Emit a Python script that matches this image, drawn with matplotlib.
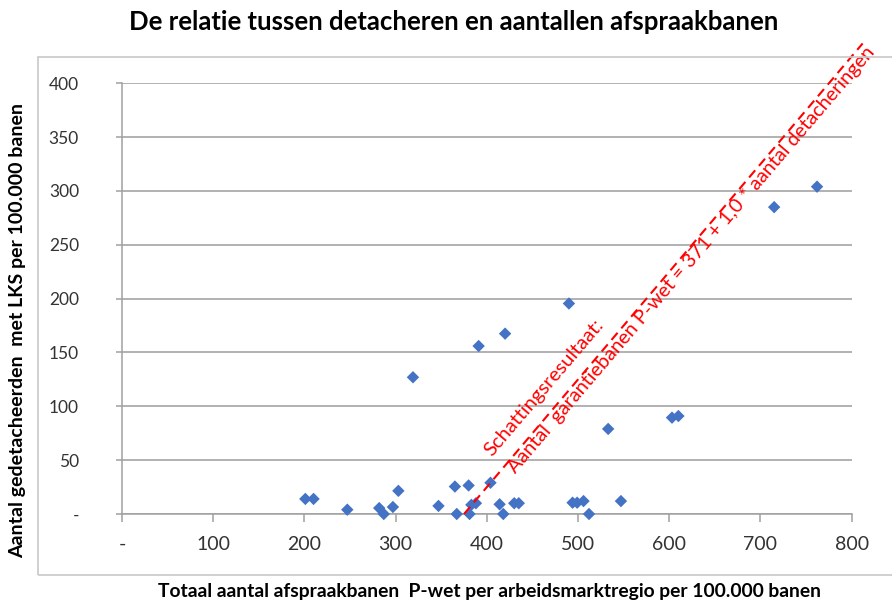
import matplotlib
matplotlib.use("Agg")
from matplotlib import pyplot as plt
from matplotlib.patches import Rectangle

plt.rcParams['font.family'] = ['Lato', 'DejaVu Sans']

# afspraakbanen P-wet (x) vs gedetacheerden met LKS (y), per 100.000 banen
afspraakbanen = [201, 210, 247, 282, 287, 297, 303, 319, 347, 365, 367, 380,
                 381, 383, 388, 391, 404, 414, 418, 420, 430, 435, 490, 494,
                 499, 506, 512, 533, 547, 603, 610, 715, 762]
gedetacheerden = [14, 14, 4, 5.5, 0, 6.5, 21.5, 127, 7.5, 25.5, 0, 26.5,
                  0, 8.5, 10, 156, 29, 9, 0, 167.5, 10, 10, 195.5, 10.5,
                  10.5, 12, 0, 79, 12, 89.5, 91, 285, 304]

# schattingsresultaat: garantiebanen = intercept + slope * detacheringen
trend_intercept = 375
trend_slope = 1.0
trend_y = [0, 437]

x_ticks = [0, 100, 200, 300, 400, 500, 600, 700, 800]
y_ticks = [0, 50, 100, 150, 200, 250, 300, 350, 400]

blue = '#4472C4'
grid_gray = '#ABABAB'
axis_gray = '#A0A0A0'

fig = plt.figure(figsize=(8.92, 6.01), dpi=100)
ax = fig.add_axes([122 / 892, 1 - 514 / 601, (851.7 - 122) / 892, (514 - 83.3) / 601])

# outer chart border
fig.patches.append(Rectangle((38 / 892, 1 - 575 / 601), 1.2, (575 - 57) / 601,
                             transform=fig.transFigure, fill=False,
                             edgecolor='#C8C8C8', linewidth=1.2))

ax.set_xlim(0, 800)
ax.set_ylim(0, 400)
ax.set_xticks(x_ticks)
ax.set_yticks(y_ticks)
ax.set_xticklabels(['-' if v == 0 else str(v) for v in x_ticks], fontsize=14, color='#333333')
ax.set_yticklabels(['-' if v == 0 else str(v) for v in y_ticks], fontsize=12.5, color='#333333')
ax.tick_params(axis='x', length=6, width=1.1, color=axis_gray, pad=10)
ax.tick_params(axis='y', length=4, width=1.1, color=axis_gray, pad=27)

ax.grid(axis='y', color=grid_gray, linewidth=1.3)
ax.set_axisbelow(True)
for side in ['top', 'right']:
    ax.spines[side].set_visible(False)
for side in ['left', 'bottom']:
    ax.spines[side].set_color(axis_gray)
    ax.spines[side].set_linewidth(1.1)

ax.scatter(afspraakbanen, gedetacheerden, marker='D', s=40, color=blue,
           edgecolors='none', zorder=3, clip_on=False)

trend_x = [trend_intercept + trend_slope * v for v in trend_y]
ax.plot(trend_x, trend_y, color='red', linewidth=1.5, dashes=(4.5, 2.8),
        clip_on=False, zorder=4)

ax.text(406, 53, 'Schattingsresultaat:', color='red', fontsize=14.5,
        rotation=49.5, rotation_mode='anchor', ha='left', va='baseline')
ax.text(432, 37, 'Aantal  garantiebanen P-wet = 371 + 1,0 * aantal detacheringen',
        color='red', fontsize=14.3, rotation=49.5, rotation_mode='anchor',
        ha='left', va='baseline', clip_on=False)

fig.text(454 / 892, 1 - 22 / 601, 'De relatie tussen detacheren en aantallen afspraakbanen',
         ha='center', va='center', fontsize=18.5, fontweight='bold')
fig.text(489 / 892, 1 - 592 / 601,
         'Totaal aantal afspraakbanen  P-wet per arbeidsmarktregio per 100.000 banen',
         ha='center', va='center', fontsize=13.9, fontweight='bold')
fig.text(18 / 892, 1 - 330 / 601, 'Aantal gedetacheerden  met LKS per 100.000 banen',
         ha='center', va='center', rotation=90, fontsize=14, fontweight='bold')

fig.savefig('out.png', dpi=100)
